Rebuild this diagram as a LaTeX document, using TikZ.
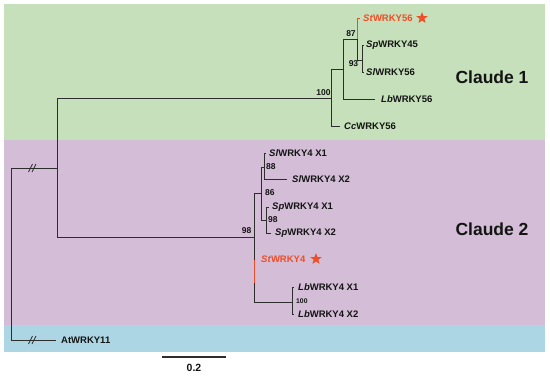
\documentclass[tikz,border=0pt]{standalone}
\usepackage{fontspec}
\setmainfont{Liberation Sans}
\usetikzlibrary{shapes.geometric}
\definecolor{cgreen}{RGB}{197,224,186}
\definecolor{cpurple}{RGB}{212,189,215}
\definecolor{cblue}{RGB}{172,214,228}
\definecolor{cred}{RGB}{238,78,40}
\definecolor{cline}{RGB}{45,45,45}
\definecolor{ctext}{RGB}{20,20,20}
\begin{document}
\begin{tikzpicture}[x=1pt,y=-1pt,
  br/.style={draw=cline, line width=0.9pt},
  redbr/.style={draw=cred, line width=0.9pt},
  leaf/.style={anchor=west, inner sep=0pt, text=ctext, font=\fontsize{9.5}{11}\selectfont\bfseries},
  redleaf/.style={leaf, text=cred},
  boot/.style={inner sep=0pt, text=ctext, font=\fontsize{8.5}{9}\selectfont\bfseries},
  smallboot/.style={boot, font=\fontsize{6.8}{8}\selectfont\bfseries},
  clade/.style={inner sep=0pt, text=ctext, font=\fontsize{17.5}{20}\selectfont\bfseries},
  starmark/.style={star, star points=5, star point ratio=2.4, fill=cred, draw=none, inner sep=0pt, minimum size=12pt},
  brk/.style={draw=cline, line width=0.8pt}
]
\useasboundingbox (0,0) rectangle (550,376);
% backgrounds
\fill[cgreen]  (4,4)   rectangle (545,140);
\fill[cpurple] (4,140) rectangle (545,325);
\fill[cblue]   (4,325) rectangle (545,352);

% internal nodes
\coordinate (Rt)   at (11,254);
\coordinate (A)    at (57,168);
\coordinate (N100) at (331,98);
\coordinate (N87)  at (343,69);
\coordinate (N87b) at (357,39);
\coordinate (N93)  at (362,60);
\coordinate (C2)   at (254,237);
\coordinate (N86)  at (261,193);
\coordinate (N88)  at (264,167);
\coordinate (N98)  at (266,220);
\coordinate (NLb)  at (292,302);
% tips
\coordinate (tAt)   at (56,340);
\coordinate (tCc)   at (340,126);
\coordinate (tLb)   at (375,99);
\coordinate (tSt)   at (360,18);
\coordinate (tSp)   at (364,45);
\coordinate (tSl)   at (364,72);
\coordinate (tSlX1) at (266,153);
\coordinate (tSlX2) at (287,179);
\coordinate (tSpX1) at (269,207);
\coordinate (tSpX2) at (271,233);
\coordinate (tLbX1) at (294,287);
\coordinate (tLbX2) at (294,314);
\coordinate (st4a)  at (254,260);
\coordinate (st4b)  at (254,283);

% branches
\draw[br] (Rt) |- (A);
\draw[br] (Rt) |- (tAt);
\draw[br] (A) |- (N100);
\draw[br] (A) |- (C2);
\draw[br] (N100) |- (N87);
\draw[br] (N100) |- (tCc);
\draw[br] (N87) |- (N87b);
\draw[br] (N87) |- (tLb);
\draw[br] (N87b) |- (N93);
\draw[redbr] (N87b) |- (tSt);
\draw[br] (N93) |- (tSp);
\draw[br] (N93) |- (tSl);
\draw[br] (C2) |- (N86);
\draw[br] (C2) |- (NLb);
\draw[br] (N86) |- (N88);
\draw[br] (N86) |- (N98);
\draw[br] (N88) |- (tSlX1);
\draw[br] (N88) |- (tSlX2);
\draw[br] (N98) |- (tSpX1);
\draw[br] (N98) |- (tSpX2);
\draw[br] (NLb) |- (tLbX1);
\draw[br] (NLb) |- (tLbX2);
\draw[redbr] (st4a) -- (st4b);

% break marks
\coordinate (bk1) at (33,168);
\coordinate (bk2) at (33,340);
\foreach \b in {bk1,bk2}{
  \draw[brk] ([shift={(-4.5,4)}]\b) -- ([shift={(-0.5,-4)}]\b);
  \draw[brk] ([shift={(-1,4)}]\b) -- ([shift={(3,-4)}]\b);
}

% leaf labels
\node[redleaf] (lSt)   at (363,18)  {\textit{St}WRKY56};
\node[starmark] (s1)   at (422,18)  {};
\node[leaf] (lSp)      at (366,45)  {\textit{Sp}WRKY45};
\node[leaf] (lSl)      at (366,72)  {\textit{Sl}WRKY56};
\node[leaf] (lLb)      at (381,99)  {\textit{Lb}WRKY56};
\node[leaf] (lCc)      at (344,126) {\textit{Cc}WRKY56};
\node[leaf] (lSlX1)    at (269,153) {\textit{Sl}WRKY4 X1};
\node[leaf] (lSlX2)    at (292,179) {\textit{Sl}WRKY4 X2};
\node[leaf] (lSpX1)    at (272,207) {\textit{Sp}WRKY4 X1};
\node[leaf] (lSpX2)    at (275,233) {\textit{Sp}WRKY4 X2};
\node[redleaf] (lSt4)  at (261,259) {\textit{St}WRKY4};
\node[starmark] (s2)   at (316,259) {};
\node[leaf] (lLbX1)    at (298,287) {\textit{Lb}WRKY4 X1};
\node[leaf] (lLbX2)    at (298,314) {\textit{Lb}WRKY4 X2};
\node[leaf] (lAt)      at (61,340)  {AtWRKY11};

% bootstrap values
\node[boot] (b100) at (323.5,93) {100};
\node[boot] (b87)  at (351,34)   {87};
\node[boot] (b93)  at (353.5,64) {93};
\node[boot] (b98a) at (246.5,231) {98};
\node[boot, anchor=west] (b88) at (266,167) {88};
\node[boot, anchor=west] (b86) at (265,193) {86};
\node[boot, anchor=west] (b98b) at (268,220) {98};
\node[smallboot, anchor=west] (b100b) at (296,301) {100};

% clade labels
\node[clade] (cl1) at (492,77)  {Claude 1};
\node[clade] (cl2) at (492,229) {Claude 2};

% scale bar
\coordinate (sb1) at (162,357);
\coordinate (sb2) at (226,357);
\draw[draw=cline, line width=1.1pt] (sb1) -- (sb2);
\node[inner sep=0pt, text=ctext, font=\fontsize{10.5}{12}\selectfont\bfseries] (sbl) at (194,368) {0.2};
\end{tikzpicture}
\end{document}
